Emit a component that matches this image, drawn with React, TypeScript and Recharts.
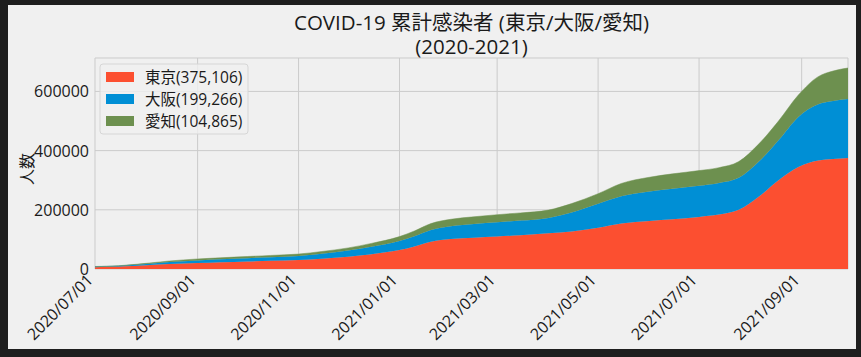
import React from 'react';
import { AreaChart, Area, XAxis, YAxis, CartesianGrid } from 'recharts';

const dates = [
  '2020-07-01', '2020-07-15', '2020-08-01', '2020-08-15', '2020-09-01', '2020-09-15',
  '2020-10-01', '2020-10-15', '2020-11-01', '2020-11-15', '2020-12-01', '2020-12-15',
  '2021-01-01', '2021-01-10', '2021-01-20', '2021-02-01', '2021-02-15', '2021-03-01',
  '2021-03-15', '2021-04-01', '2021-04-15', '2021-05-01', '2021-05-15', '2021-06-01',
  '2021-06-15', '2021-07-01', '2021-07-13', '2021-07-25', '2021-08-06', '2021-08-18',
  '2021-08-30', '2021-09-11', '2021-09-20', '2021-09-29',
];
const tokyo = [
  6200, 8200, 12700, 16500, 20100, 22900,
  25700, 28000, 30700, 35000, 41800, 50000,
  64000, 76000, 92000, 101000, 106000, 110000,
  114000, 120500, 127000, 139500, 154000, 162500,
  168000, 176000, 184000, 200000, 244000, 300000,
  345000, 367000, 372000, 375106,
];
const osaka = [
  1800, 2100, 4500, 7000, 9000, 9900,
  11000, 12000, 13500, 16500, 20500, 25000,
  30500, 34500, 40000, 43500, 46000, 48000,
  49500, 52000, 64000, 81000, 92000, 99500,
  103000, 105000, 106500, 108000, 118000, 135000,
  169000, 190000, 196000, 199266,
];
const aichi = [
  500, 600, 2000, 3600, 4800, 5200,
  5500, 5800, 6300, 7600, 9000, 11500,
  15000, 18000, 21500, 23500, 24500, 25500,
  26000, 26500, 30000, 34000, 43000, 48000,
  50500, 51500, 52000, 55000, 60000, 65000,
  74000, 93000, 101000, 104865,
];
const seriesNames = ['東京', '大阪', '愛知'];
const seriesKeys = ['tokyo', 'osaka', 'aichi'];
const seriesColors = ['#fc4f30', '#008fd5', '#6d904f'];
const xTickDates = ['2020-07-01', '2020-09-01', '2020-11-01', '2021-01-01', '2021-03-01', '2021-05-01', '2021-07-01', '2021-09-01'];
const yTicks = [0, 200000, 400000, 600000];
const titleLines = ['COVID-19 累計感染者 (東京/大阪/愛知)', '(2020-2021)'];
const yLabel = '人数';

const DAY = 86400000;
const toDay = (s: string) => {
  const [y, m, d] = s.split('-').map(Number);
  return (Date.UTC(y, m - 1, d) - Date.UTC(2020, 6, 1)) / DAY;
};
const fmtDay = (v: number) => {
  const dt = new Date(Date.UTC(2020, 6, 1) + v * DAY);
  const mm = String(dt.getUTCMonth() + 1).padStart(2, '0');
  const dd = String(dt.getUTCDate()).padStart(2, '0');
  return `${dt.getUTCFullYear()}/${mm}/${dd}`;
};

const data = dates.map((d, i) => ({ day: toDay(d), tokyo: tokyo[i], osaka: osaka[i], aichi: aichi[i] }));
const lastVals = [tokyo[tokyo.length - 1], osaka[osaka.length - 1], aichi[aichi.length - 1]];

const FONT = '"Open Sans", "Noto Sans CJK JP", sans-serif';
const TXT = '#1a1a1a';

const W = 848;
const H = 344;
const M = { top: 53, right: 8, bottom: 0, left: 0 };
const YW = 87;

const XTick = (props: any) => {
  const { x, y, payload } = props;
  const tx = x - 1;
  const ty = y + 4;
  return (
    <text x={tx} y={ty} transform={`rotate(-45 ${tx} ${ty})`} textAnchor="end" fontSize={16} fill={TXT} fontFamily={FONT}>
      {fmtDay(payload.value)}
    </text>
  );
};

const YTick = (props: any) => {
  const { x, y, payload } = props;
  return (
    <text x={x} y={y} textAnchor="end" dominantBaseline="central" fontSize={16} fill={TXT} fontFamily={FONT}>
      {payload.value}
    </text>
  );
};

export default function App() {
  const lx = 92;
  const ly = 59;
  return (
    <>
      <style>{'body{margin:0;background:#1e1e1e;}'}</style>
      <div style={{ position: 'absolute', left: 8, top: 5, width: W, height: H, background: '#f0f0f0' }}>
        <AreaChart width={W} height={H} data={data} margin={M}>
          <CartesianGrid stroke="#cbcbcb" strokeWidth={1} />
          <XAxis
            dataKey="day"
            type="number"
            domain={[0, toDay(dates[dates.length - 1])]}
            ticks={xTickDates.map(toDay)}
            tick={<XTick />}
            tickLine={false}
            axisLine={false}
            height={80}
            interval={0}
            allowDataOverflow
          />
          <YAxis
            type="number"
            domain={[0, 713000]}
            ticks={yTicks}
            tick={<YTick />}
            tickLine={false}
            axisLine={false}
            width={YW}
            tickSize={4}
            tickMargin={2}
            interval={0}
            allowDataOverflow
          />
          {seriesKeys.map((k, i) => (
            <Area
              key={k}
              type="monotone"
              dataKey={k}
              stackId="s"
              stroke={seriesColors[i]}
              strokeWidth={0.5}
              fill={seriesColors[i]}
              fillOpacity={1}
              isAnimationActive={false}
              dot={false}
              activeDot={false}
            />
          ))}
          <text x={463.5} y={25} textAnchor="middle" fontSize={20.5} fill={TXT} fontFamily={FONT}>{titleLines[0]}</text>
          <text x={463.5} y={49} textAnchor="middle" fontSize={20.5} fill={TXT} fontFamily={FONT}>{titleLines[1]}</text>
          <text x={19} y={164} transform="rotate(-90 19 164)" textAnchor="middle" dominantBaseline="central" fontSize={16} fill={TXT} fontFamily={FONT}>{yLabel}</text>
          <g>
            <rect x={lx} y={ly} width={148} height={70} rx={3} fill="#f0f0f0" fillOpacity={0.8} stroke="#d6d6d6" strokeWidth={1} />
            {seriesNames.map((n, i) => (
              <g key={n}>
                <rect x={lx + 6} y={ly + 8 + i * 22} width={28} height={10} fill={seriesColors[i]} />
                <text x={lx + 45} y={ly + 13 + i * 22} dominantBaseline="central" fontSize={15.5} fill={TXT} fontFamily={FONT}>
                  {`${n}(${lastVals[i].toLocaleString('en-US')})`}
                </text>
              </g>
            ))}
          </g>
        </AreaChart>
      </div>
    </>
  );
}
